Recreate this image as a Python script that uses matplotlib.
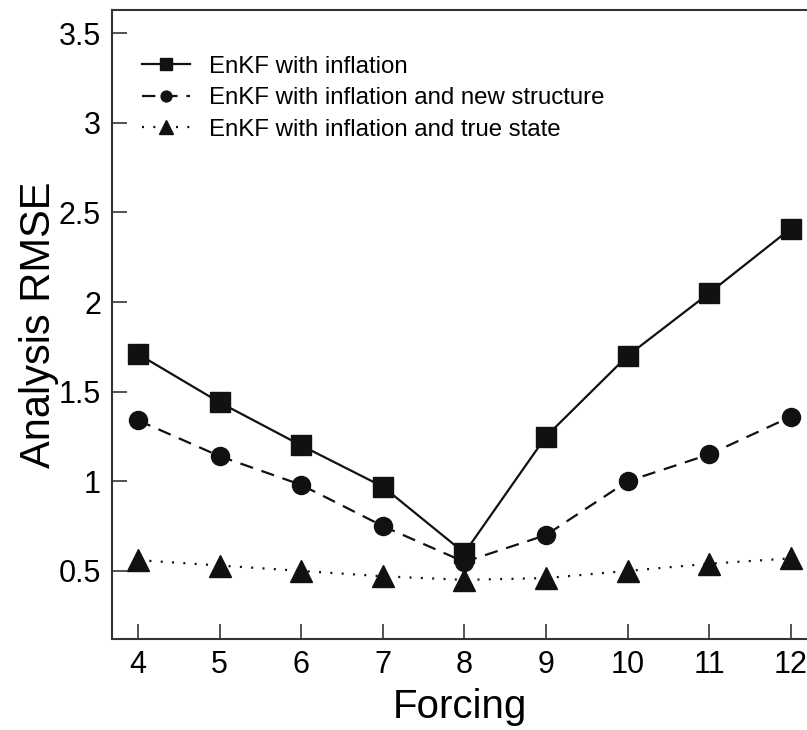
import matplotlib
matplotlib.use("Agg")
import matplotlib.pyplot as plt

# =========================================================
# DATA
# =========================================================
forcing = [4, 5, 6, 7, 8, 9, 10, 11, 12]
rmse_inflation = [1.71, 1.44, 1.20, 0.97, 0.60, 1.25, 1.70, 2.05, 2.41]
rmse_new_structure = [1.34, 1.14, 0.98, 0.75, 0.55, 0.70, 1.00, 1.15, 1.36]
rmse_true_state = [0.56, 0.53, 0.50, 0.47, 0.45, 0.46, 0.50, 0.54, 0.57]

labels = [
    "EnKF with inflation",
    "EnKF with inflation and new structure",
    "EnKF with inflation and true state",
]
yticks = [0.5, 1, 1.5, 2, 2.5, 3, 3.5]
ytick_labels = ["0.5", "1", "1.5", "2", "2.5", "3", "3.5"]

# =========================================================
# FIGURE
# =========================================================
plt.rcParams["font.family"] = ["Liberation Sans", "DejaVu Sans"]

fig = plt.figure(figsize=(8.07, 7.3), dpi=100)
ax = fig.add_axes([112 / 807, 1 - 639 / 730, 1 - 112 / 807, (639 - 10) / 730])

ink = "#111111"
ax.plot(forcing, rmse_inflation, "-", color=ink, lw=1.6,
        marker="s", markersize=14, label=labels[0])
ax.plot(forcing, rmse_new_structure, "--", color=ink, lw=1.6,
        dashes=(6, 4), marker="o", markersize=13, label=labels[1])
ax.plot(forcing, rmse_true_state, ":", color=ink, lw=1.6,
        dashes=(0.9, 4.2), marker="^", markersize=16, label=labels[2])

ax.set_xlim(3.68, 12.2)
ax.set_ylim(0.12, 3.63)
ax.set_xticks(forcing)
ax.set_yticks(yticks)
ax.set_yticklabels(ytick_labels)

ax.tick_params(direction="in", length=11, width=1.3, labelsize=22,
               color="#444444", pad=8)
for side in ["left", "bottom", "top"]:
    ax.spines[side].set_linewidth(1.5)
    ax.spines[side].set_color("#333333")
ax.spines["right"].set_visible(False)

ax.set_xlabel("Forcing", fontsize=29, labelpad=6)
ax.set_ylabel("Analysis RMSE", fontsize=30, labelpad=0)

ax.legend(loc="upper left", frameon=False, fontsize=17.3,
          bbox_to_anchor=(0.012, 0.962), handlelength=2.0,
          handletextpad=0.8, labelspacing=0.4, markerscale=0.6)

fig.savefig("out.png", dpi=100)
